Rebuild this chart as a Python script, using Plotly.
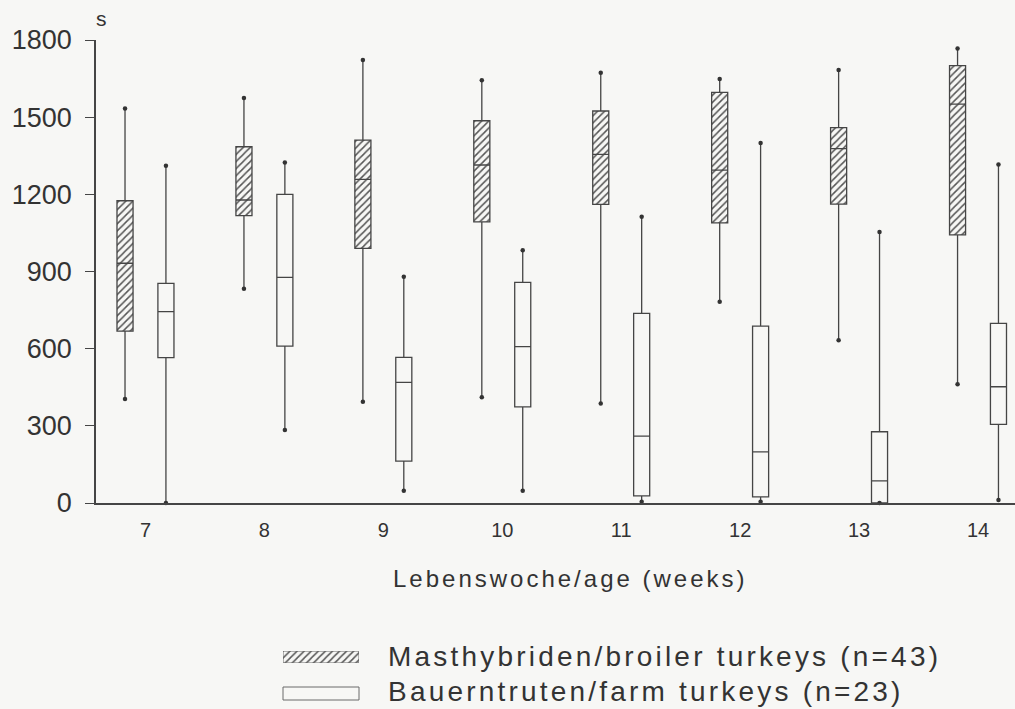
import plotly.graph_objects as go

# Age in weeks
weeks = [7, 8, 9, 10, 11, 12, 13, 14]

# Broiler turkeys (Masthybriden), seconds: whisker ends, quartiles, median
broiler_upper = [1534, 1575, 1722, 1644, 1673, 1648, 1683, 1767]
broiler_q3 = [1175, 1385, 1411, 1486, 1524, 1596, 1459, 1700]
broiler_median = [932, 1178, 1258, 1314, 1355, 1294, 1378, 1551]
broiler_q1 = [668, 1117, 990, 1093, 1161, 1089, 1162, 1042]
broiler_lower = [404, 833, 394, 411, 387, 782, 633, 462]

# Farm turkeys (Bauerntruten), seconds
farm_upper = [1311, 1324, 880, 983, 1113, 1400, 1054, 1316]
farm_q3 = [854, 1200, 566, 858, 737, 688, 277, 698]
farm_median = [744, 877, 469, 608, 260, 199, 86, 452]
farm_q1 = [565, 610, 163, 374, 28, 24, 0, 306]
farm_lower = [0, 284, 48, 48, 5, 5, 0, 12]

y_ticks = [0, 300, 600, 900, 1200, 1500, 1800]

BG = "#f7f7f5"
INK = "#454545"
TXT = "#333333"
FONT = "Liberation Sans, Arial, sans-serif"

W, H = 1015, 709
L, T = 96, 40
PLOT_BOTTOM = 503  # pixel row of the x axis


def px_x(p):
    return (p - L) / (W - L)


def px_y(p):
    return (H - p) / (H - T)


OFFSET = 0.172
BOX_W = 0.135
xb = [w - OFFSET for w in weeks]
xf = [w + OFFSET for w in weeks]

hatch = dict(shape="/", size=5, solidity=0.3, fgcolor="#555555", bgcolor=BG)

fig = go.Figure()

# hatched fill of the broiler boxes (interquartile range)
fig.add_trace(go.Bar(
    x=xb, base=broiler_q1, y=[a - b for a, b in zip(broiler_q3, broiler_q1)],
    width=BOX_W, marker=dict(color=BG, pattern=hatch, line=dict(width=0)),
    showlegend=False, hoverinfo="skip",
))

box_line = dict(color=INK, width=1.3)
fig.add_trace(go.Box(
    x=xb, q1=broiler_q1, median=broiler_median, q3=broiler_q3,
    lowerfence=broiler_lower, upperfence=broiler_upper,
    width=BOX_W, whiskerwidth=0, fillcolor="rgba(0,0,0,0)", line=box_line,
    boxpoints=False, showlegend=False,
))
fig.add_trace(go.Box(
    x=xf, q1=farm_q1, median=farm_median, q3=farm_q3,
    lowerfence=farm_lower, upperfence=farm_upper,
    width=BOX_W, whiskerwidth=0, fillcolor=BG, line=box_line,
    boxpoints=False, showlegend=False,
))

# dots at the whisker ends
fig.add_trace(go.Scatter(
    x=xb + xb, y=broiler_lower + broiler_upper, mode="markers",
    marker=dict(size=4.5, color="#333"), cliponaxis=False,
    showlegend=False, hoverinfo="skip",
))
fig.add_trace(go.Scatter(
    x=xf + xf, y=farm_lower + farm_upper, mode="markers",
    marker=dict(size=4.5, color="#333"), cliponaxis=False,
    showlegend=False, hoverinfo="skip",
))

# hatched legend swatch, drawn on its own small hidden axes
fig.add_trace(go.Bar(
    x=[0.5], y=[1], width=1, xaxis="x2", yaxis="y2",
    marker=dict(color=BG, pattern=hatch, line=dict(color="#6a6a6a", width=1)),
    showlegend=False, hoverinfo="skip",
))


def spaced(text, sp):
    return f'<span style="letter-spacing:{sp}px">{text}</span>'


annotations = [
    dict(text="s", x=px_x(101), y=px_y(19), xref="paper", yref="paper",
         xanchor="center", yanchor="middle", showarrow=False,
         font=dict(family=FONT, size=21, color=TXT)),
    dict(text=spaced("Lebenswoche/age (weeks)", 3), x=px_x(391), y=px_y(578),
         xref="paper", yref="paper", xanchor="left", yanchor="middle",
         showarrow=False, font=dict(family=FONT, size=24, color=TXT)),
    dict(text=spaced("Masthybriden/broiler turkeys (n=43)", 3.2), x=px_x(386), y=px_y(656),
         xref="paper", yref="paper", xanchor="left", yanchor="middle",
         showarrow=False, font=dict(family=FONT, size=28, color=TXT)),
    dict(text=spaced("Bauerntruten/farm turkeys (n=23)", 3.2), x=px_x(386), y=px_y(691),
         xref="paper", yref="paper", xanchor="left", yanchor="middle",
         showarrow=False, font=dict(family=FONT, size=28, color=TXT)),
]

shapes = [
    dict(type="rect", xref="paper", yref="paper",
         x0=px_x(283), x1=px_x(359), y0=px_y(700), y1=px_y(687),
         line=dict(color="#6a6a6a", width=1), fillcolor=BG),
]

fig.update_layout(
    template="none",
    width=W, height=H, autosize=False,
    margin=dict(l=L, r=0, t=T, b=0, pad=0, autoexpand=False),
    paper_bgcolor=BG, plot_bgcolor=BG,
    font=dict(family=FONT, color=TXT),
    showlegend=False,
    boxmode="overlay",
    xaxis=dict(
        domain=[0, 1], range=[6.584, 14.311], automargin=False,
        tickvals=weeks, ticktext=[str(w) for w in weeks],
        ticks="", showline=True, linecolor=INK, linewidth=1.5,
        showgrid=False, zeroline=False,
        tickfont=dict(family=FONT, size=20, color=TXT),
        ticklabelstandoff=8,
    ),
    yaxis=dict(
        domain=[px_y(PLOT_BOTTOM), 1], range=[0, 1800], automargin=False,
        tickvals=y_ticks, ticktext=[str(v) for v in y_ticks],
        ticks="outside", ticklen=9, tickwidth=1.3, tickcolor=INK,
        showline=True, linecolor=INK, linewidth=1.5,
        showgrid=False, zeroline=False,
        tickfont=dict(family=FONT, size=27, color=TXT),
        ticklabelstandoff=8,
    ),
    xaxis2=dict(domain=[px_x(283), px_x(359)], range=[0, 1], visible=False,
                anchor="y2", fixedrange=True, automargin=False),
    yaxis2=dict(domain=[px_y(663), px_y(651)], range=[0, 1], visible=False,
                anchor="x2", fixedrange=True, automargin=False),
    annotations=annotations,
    shapes=shapes,
)

fig.write_html("out.html")
